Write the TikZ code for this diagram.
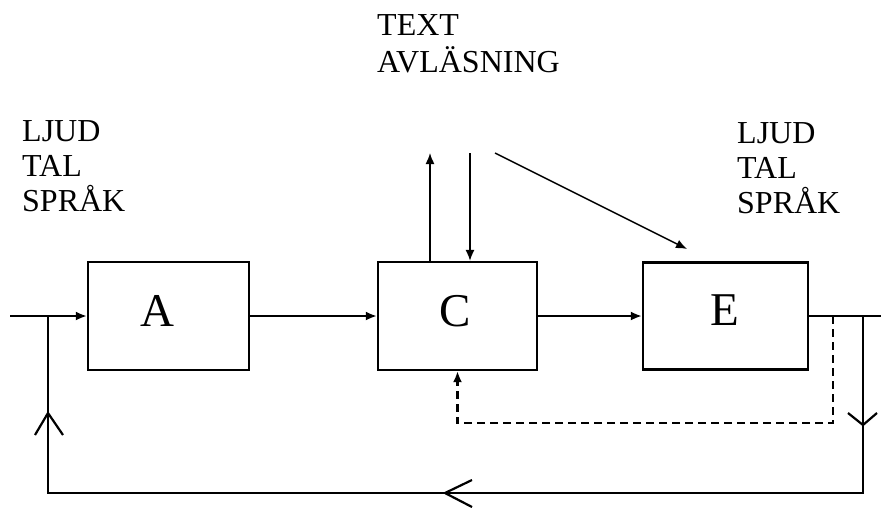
\documentclass[tikz,border=0pt]{standalone}
\usepackage{fontspec}
\setmainfont{Liberation Serif}
\usetikzlibrary{arrows.meta}
\begin{document}
\begin{tikzpicture}[x=1pt,y=-1pt,
  blk/.style={draw,line width=2.2pt,inner sep=0pt},
  big/.style={font=\fontsize{47}{47}\selectfont,inner sep=0pt},
  lbl/.style={font=\fontsize{32}{35}\selectfont,align=left,inner sep=0pt,anchor=base west},
  sig/.style={line width=2.2pt},
  thin/.style={line width=1.5pt},
  tip/.style={-{Latex[length=11pt,width=9pt]}},
  dsh/.style={line width=2.2pt,dash pattern=on 8pt off 5pt}
]
\useasboundingbox (0,0) rectangle (881,509);
% blocks
\node[blk,minimum width=161pt,minimum height=108pt] (A) at (168.5,316) {};
\node[blk,minimum width=159pt,minimum height=108pt] (C) at (457.5,316) {};
\node[blk,minimum width=165pt,minimum height=107pt] (E) at (725.5,316) {};
\node[big] (tA) at (157,311) {A};
\node[big] (tC) at (455,311) {C};
\node[big] (tE) at (725,310) {E};
% labels (base anchor = last line's baseline)
\node[lbl] (l1) at (22,211) {LJUD\\TAL\\SPRÅK};
\node[lbl] (l2) at (737,213) {LJUD\\TAL\\SPRÅK};
\node[lbl,font=\fontsize{32}{37}\selectfont] (l3) at (377,72) {TEXT\\AVLÄSNING};
% coordinates
\coordinate (in) at (10,316);
\coordinate (j1) at (48,316);
\coordinate (out) at (881,316);
\coordinate (j2) at (863,316);
\coordinate (br) at (863,493);
\coordinate (bl) at (48,493);
\coordinate (dj) at (833,316);
\coordinate (dr) at (833,423);
\coordinate (dl) at (457.5,423);
\coordinate (up1) at (430,153);
\coordinate (dn1) at (470,153);
\coordinate (dg1) at (495,153);
\coordinate (dg2) at (687,249);
% main signal path
\draw[sig,tip] (in) -- (A.west);
\draw[sig,tip] (A.east) -- (C.west);
\draw[sig,tip] (C.east) -- (E.west);
\draw[sig] (E.east) -- (out);
% feedback loop
\draw[sig] (j2) -- (br) -- (bl) -- (j1);
% open arrow marks
\draw[sig] (35,435) -- (48,413) -- (63,435);
\draw[sig] (848,413) -- (863,425) -- (877,413);
\draw[sig] (472,480) -- (445,493) -- (472,507);
% dashed feedback
\draw[dsh,tip] (dj) -- (dr) -- (dl) -- (dl |- C.south);
% top arrows
\draw[thin,tip] (C.north -| up1) -- (up1);
\draw[thin,tip] (dn1) -- (C.north -| dn1);
\draw[thin,tip] (dg1) -- (dg2);
\end{tikzpicture}
\end{document}
